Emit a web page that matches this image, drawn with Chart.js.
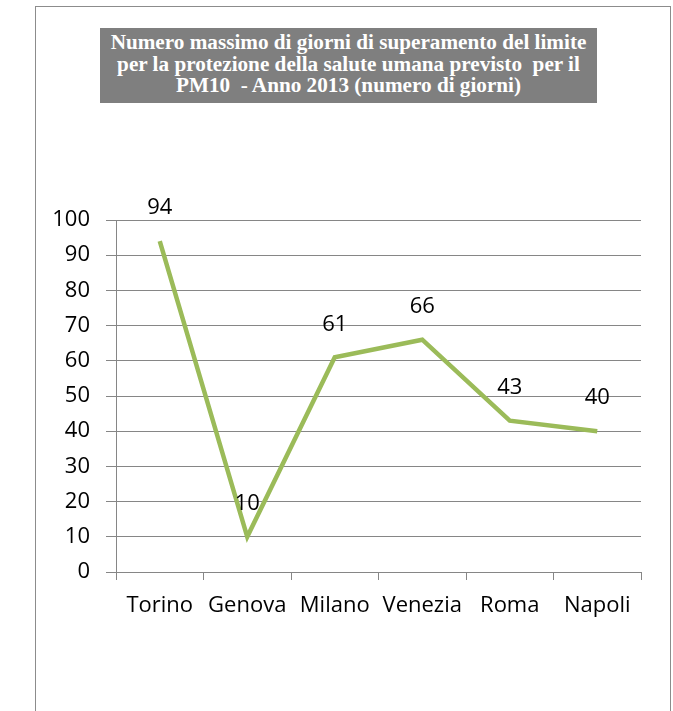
<!DOCTYPE html>
<html>
<head>
<meta charset="utf-8">
<script src="https://cdn.jsdelivr.net/npm/chart.js@4"></script>
<style>
  html, body { margin: 0; padding: 0; background: #fff; }
  body { width: 673px; height: 711px; position: relative; overflow: hidden; }
  #frame {
    position: absolute; left: 35px; top: 6px; width: 636px; height: 740px;
    border: 1px solid #8c8c8c; border-bottom: none; box-sizing: border-box;
  }
  #title {
    position: absolute; left: 100px; top: 28px; width: 497px; height: 75px;
    background: #7f7f7f; color: #fff; text-align: center;
    font-family: "Liberation Serif", "Times New Roman", serif; font-weight: bold;
    font-size: 21.2px; line-height: 21.5px; padding-top: 4px; box-sizing: border-box;
    white-space: nowrap;
  }
  #chartWrap { position: absolute; left: 0; top: 0; width: 673px; height: 711px; }
</style>
</head>
<body>
<div id="frame"></div>
<div id="title">Numero massimo di giorni di superamento del limite<br>per la protezione della salute umana previsto&nbsp; per il<br>PM10&nbsp; - Anno 2013 (numero di giorni)</div>
<div id="chartWrap"><canvas id="chart" width="673" height="711"></canvas></div>
<script>
// Data
const cities = ['Torino', 'Genova', 'Milano', 'Venezia', 'Roma', 'Napoli'];
const days = [94, 10, 61, 66, 43, 40];
const yTicks = [0, 10, 20, 30, 40, 50, 60, 70, 80, 90, 100];

const labelFont = { family: '"Open Sans", sans-serif', size: 22 };

// draws the value above each point
const valueLabels = {
    id: 'valueLabels',
    afterDatasetsDraw(chart) {
        const ctx = chart.ctx;
        const meta = chart.getDatasetMeta(0);
        ctx.save();
        ctx.font = `${labelFont.size}px ${labelFont.family}`;
        ctx.fillStyle = '#000';
        ctx.textAlign = 'center';
        ctx.textBaseline = 'middle';
        meta.data.forEach((pt, i) => {
            ctx.fillText(String(days[i]), pt.x, pt.y - 33);
        });
        ctx.restore();
    }
};

const ctx = document.getElementById('chart').getContext('2d');
new Chart(ctx, {
    type: 'line',
    data: {
        labels: cities,
        datasets: [{
            data: days,
            borderColor: '#9bbb59',
            borderWidth: 4.5,
            pointRadius: 0,
            tension: 0,
            fill: false
        }]
    },
    options: {
        responsive: false,
        animation: false,
        layout: { padding: { left: 0, top: 220, right: 32, bottom: 0 } },
        plugins: {
            legend: { display: false },
            tooltip: { enabled: false },
            title: { display: false }
        },
        scales: {
            x: {
                type: 'category',
                offset: true,
                grid: { offset: true, drawOnChartArea: false, drawTicks: true, tickLength: 8, color: '#868686' },
                border: { color: '#868686', width: 1 },
                ticks: { color: '#000', font: labelFont, padding: 13, maxRotation: 0, autoSkip: false },
                afterFit(scale) { scale.height = 711 - 572; }
            },
            y: {
                min: 0,
                max: 100,
                afterBuildTicks(scale) { scale.ticks = yTicks.map(v => ({ value: v })); },
                grid: { color: '#868686', tickLength: 10, lineWidth: 1 },
                border: { color: '#868686', width: 1 },
                ticks: { color: '#000', font: labelFont, padding: 16 },
                afterFit(scale) { scale.width = 116; }
            }
        }
    },
    plugins: [valueLabels]
});
</script>
</body>
</html>
